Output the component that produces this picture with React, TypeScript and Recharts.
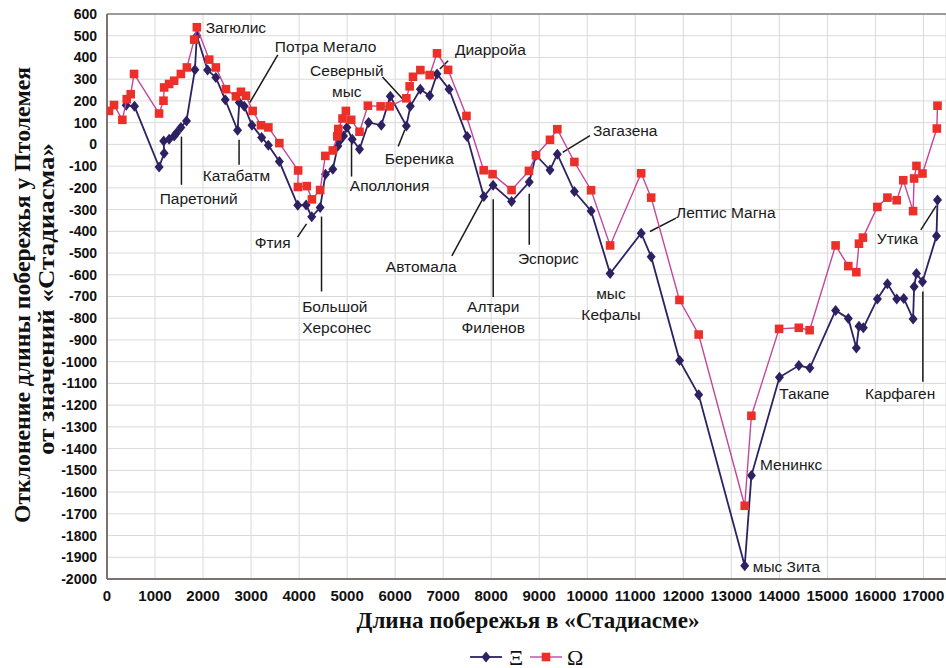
import {
  ScatterChart,
  Scatter,
  XAxis,
  YAxis,
  CartesianGrid,
  ReferenceLine,
  ReferenceDot,
} from 'recharts'

// Ξ series: distance along coast (Stadiasmus) and deviation from Ptolemy
const xiDist = [
  400, 573, 1085, 1190, 1180, 1294, 1398, 1447, 1538, 1655, 1830, 1871, 2094, 2267, 2462, 2719,
  2755, 2858, 3019, 3220, 3360, 3589, 3972, 4146, 4263, 4438, 4549, 4702, 4807, 4841, 4925, 4994,
  5106, 5258, 5447, 5712, 5899, 6233, 6316, 6525, 6719, 6872, 7122, 7498, 7846, 8040, 8424, 8792,
  8932, 9224, 9377, 9732, 10080, 10476, 11123, 11331, 11923, 12320, 13279, 13418, 14002, 14405,
  14635, 15171, 15436, 15603, 15658, 15749, 16041, 16250, 16444, 16590, 16785, 16806, 16855,
  16980, 17272, 17293,
]
const xiDev = [
  180, 175, -104, -41, 16, 24, 39, 52, 78, 108, 343, 500, 342, 308, 205, 65,
  193, 175, 88, 32, -4, -79, -280, -279, -333, -291, -137, -114, -7, 16, 39, 78,
  24, -22, 101, 88, 221, 85, 175, 254, 224, 324, 254, 36, -240, -188, -263, -173,
  -50, -118, -45, -217, -306, -594, -409, -517, -995, -1152, -1939, -1524, -1072, -1018,
  -1029, -764, -801, -937, -837, -844, -711, -641, -711, -709, -803, -655, -594,
  -632, -422, -256,
]

// Ω series
const omegaDist = [
  42, 146, 320, 411, 494, 563, 1085, 1176, 1190, 1294, 1398, 1538, 1663, 1816, 1871, 2129, 2267,
  2476, 2685, 2789, 2894, 3033, 3207, 3360, 3589, 3980, 3975, 4160, 4267, 4438, 4546, 4702, 4795,
  4816, 4904, 4974, 5085, 5258, 5432, 5697, 5885, 6233, 6302, 6372, 6525, 6719, 6872, 7102, 7485,
  7843, 8028, 8424, 8786, 8932, 9224, 9377, 9732, 10080, 10476, 11123, 11331, 11920, 12320, 13279,
  13418, 13995, 14405, 14630, 15171, 15436, 15603, 15658, 15740, 16041, 16250, 16444, 16580,
  16785, 16806, 16855, 16980, 17279, 17293,
]
const omegaDev = [
  154, 181, 113, 208, 231, 324, 142, 201, 262, 278, 293, 324, 354, 482, 539, 390, 354,
  254, 221, 242, 224, 154, 88, 78, 6, -120, -196, -192, -253, -210, -53, -28, 37,
  71, 119, 154, 113, 58, 178, 175, 175, 212, 267, 311, 342, 319, 419, 343, 131,
  -119, -137, -210, -122, -50, 21, 70, -81, -211, -465, -133, -245, -716, -875, -1663,
  -1249, -849, -844, -855, -465, -560, -588, -457, -429, -288, -245, -257, -165,
  -307, -157, -99, -134, 73, 178,
]

const xTicks = [
  0, 1000, 2000, 3000, 4000, 5000, 6000, 7000, 8000, 9000, 10000, 11000, 12000, 13000, 14000,
  15000, 16000, 17000,
]
const yTicks = [
  600, 500, 400, 300, 200, 100, 0, -100, -200, -300, -400, -500, -600, -700, -800, -900, -1000,
  -1100, -1200, -1300, -1400, -1500, -1600, -1700, -1800, -1900, -2000,
]

// place names (text anchor in data units; align: start | middle)
const placeNames = [
  { lines: ['Загюлис'], x: 2056, y: 541, align: 'start' },
  { lines: ['Потра Мегало'], x: 3494, y: 454, align: 'start' },
  { lines: ['Северный', 'мыс'], x: 4994, y: 343, align: 'middle' },
  { lines: ['Диарройа'], x: 7244, y: 440, align: 'start' },
  { lines: ['Катабатм'], x: 1994, y: -140, align: 'start' },
  { lines: ['Паретоний'], x: 1098, y: -246, align: 'start' },
  { lines: ['Аполлония'], x: 5056, y: -186, align: 'start' },
  { lines: ['Береника'], x: 5785, y: -62, align: 'start' },
  { lines: ['Загазена'], x: 10119, y: 67, align: 'start' },
  { lines: ['Лептис Магна'], x: 11848, y: -310, align: 'start' },
  { lines: ['Эспорис'], x: 8556, y: -522, align: 'start' },
  { lines: ['Автомала'], x: 5806, y: -559, align: 'start' },
  { lines: ['Алтари', 'Филенов'], x: 8042, y: -743, align: 'middle' },
  { lines: ['мыс', 'Кефалы'], x: 10494, y: -683, align: 'middle' },
  { lines: ['Фтия'], x: 3076, y: -449, align: 'start' },
  { lines: ['Большой', 'Херсонес'], x: 4063, y: -742, align: 'start' },
  { lines: ['Такапе'], x: 14000, y: -1144, align: 'start' },
  { lines: ['Карфаген'], x: 15785, y: -1144, align: 'start' },
  { lines: ['Утика'], x: 16029, y: -431, align: 'start' },
  { lines: ['Менинкс'], x: 13598, y: -1472, align: 'start' },
  { lines: ['мыс Зита'], x: 13446, y: -1939, align: 'start' },
]

// leader lines [x1, y1, x2, y2] in data units
const leaders = [
  [3556, 412, 2973, 192],
  [5737, 310, 6202, 198],
  [7104, 385, 6931, 347],
  [2750, 21, 2750, -94],
  [1550, 36, 1550, -186],
  [5092, 13, 5092, -148],
  [6202, 67, 6063, -10],
  [10056, 40, 9488, -37],
  [11848, -339, 11306, -401],
  [8792, -227, 8792, -462],
  [7833, -247, 7181, -513],
  [8042, -253, 8042, -702],
  [3967, -427, 4154, -366],
  [4467, -332, 4467, -677],
  [16988, -677, 16988, -1092],
  [16946, -393, 17265, -283],
]

const XI = '#2e2162'
const OMEGA = '#ec3029'
const OMEGA_LINE = '#c4469c'
const SANS = "'Liberation Sans', Arial, sans-serif"
const SERIF = "'Liberation Serif', 'Times New Roman', serif"

const xiData = xiDist.map((x, i) => ({ x, y: xiDev[i] }))
const omegaData = omegaDist.map((x, i) => ({ x, y: omegaDev[i] }))

const Diamond = (p: any) => (
  <polygon
    points={`${p.cx},${p.cy - 5.5} ${p.cx + 4.5},${p.cy} ${p.cx},${p.cy + 5.5} ${p.cx - 4.5},${p.cy}`}
    fill={XI}
  />
)

const Square = (p: any) => (
  <rect x={p.cx - 4.3} y={p.cy - 4.3} width={8.6} height={8.6} fill={OMEGA} />
)

const App = () => {
  return (
    <div style={{ position: 'absolute', left: 0, top: 0, width: 946, height: 668, background: '#fff' }}>
      <style>{`html, body { margin: 0; overflow: hidden; }`}</style>
      <ScatterChart
        width={946}
        height={668}
        margin={{ top: 14, right: 0, bottom: 59, left: 7 }}
      >
        <CartesianGrid stroke="#d9d9d9" strokeWidth={1} />
        <XAxis
          type="number"
          dataKey="x"
          domain={[0, 17470]}
          ticks={xTicks}
          allowDataOverflow
          interval={0}
          tickSize={0}
          tickMargin={11}
          axisLine={{ stroke: '#7d7270', strokeWidth: 2 }}
          tick={{
            fill: '#111',
            fontSize: 15,
            fontWeight: 'bold',
            fontFamily: "'Liberation Sans Narrow', 'Arial Narrow', " + SANS,
          }}
        />
        <YAxis
          type="number"
          dataKey="y"
          domain={[-2000, 600]}
          ticks={yTicks}
          allowDataOverflow
          interval={0}
          width={100}
          tickSize={0}
          tickMargin={10}
          axisLine={{ stroke: '#7d7270', strokeWidth: 2 }}
          tick={{ fill: '#111', fontSize: 14, fontWeight: 'bold', fontFamily: SANS }}
        />
        <ReferenceLine y={600} stroke="#8a7f7c" strokeWidth={1.5} />
        <Scatter
          name="Ξ"
          data={xiData}
          line={{ stroke: XI, strokeWidth: 1.8 }}
          lineType="joint"
          shape={Diamond}
          isAnimationActive={false}
        />
        <Scatter
          name="Ω"
          data={omegaData}
          line={{ stroke: OMEGA_LINE, strokeWidth: 1.4 }}
          lineType="joint"
          shape={Square}
          isAnimationActive={false}
        />
        {leaders.map((l, i) => (
          <ReferenceLine
            key={'l' + i}
            segment={[
              { x: l[0], y: l[1] },
              { x: l[2], y: l[3] },
            ]}
            stroke="#1a1a1a"
            strokeWidth={1.5}
          />
        ))}
        {placeNames.map((n, i) => (
          <ReferenceDot
            key={'n' + i}
            x={n.x}
            y={n.y}
            r={0}
            shape={(p: any) => (
              <text
                x={p.cx}
                y={p.cy}
                textAnchor={n.align}
                dominantBaseline="central"
                fontFamily={SANS}
                fontSize={15.5}
                fill="#1a1a1a"
              >
                {n.lines.map((t, j) => (
                  <tspan key={j} x={p.cx} dy={j === 0 ? 0 : 21}>
                    {t}
                  </tspan>
                ))}
              </text>
            )}
          />
        ))}
      </ScatterChart>
      <svg
        width={946}
        height={668}
        style={{ position: 'absolute', left: 0, top: 0, pointerEvents: 'none' }}
      >
        <g fontFamily={SERIF} fontWeight="bold" fontSize={23} fill="#111">
          <text
            transform="translate(22,295) rotate(-90)"
            textAnchor="middle"
            dominantBaseline="central"
            textLength={456}
            lengthAdjust="spacingAndGlyphs"
          >
            Отклонение длины побережья у Птолемея
          </text>
          <text
            transform="translate(46,299) rotate(-90)"
            textAnchor="middle"
            dominantBaseline="central"
            textLength={312}
            lengthAdjust="spacingAndGlyphs"
          >
            от значений «Стадиасма»
          </text>
          <text
            x={528}
            y={620}
            textAnchor="middle"
            dominantBaseline="central"
            textLength={343}
            lengthAdjust="spacingAndGlyphs"
          >
            Длина побережья в «Стадиасме»
          </text>
        </g>
        {/* legend */}
        <g>
          <line x1={470} y1={657} x2={502} y2={657} stroke={XI} strokeWidth={1.8} />
          <Diamond cx={486} cy={657} />
          <text x={509} y={657} dominantBaseline="central" fontFamily={SERIF} fontSize={22} fill="#111">
            Ξ
          </text>
          <line x1={530} y1={657} x2={562} y2={657} stroke={OMEGA_LINE} strokeWidth={1.4} />
          <Square cx={546} cy={657} />
          <text x={567} y={657} dominantBaseline="central" fontFamily={SERIF} fontSize={22} fill="#111">
            Ω
          </text>
        </g>
      </svg>
    </div>
  )
}

export default App
